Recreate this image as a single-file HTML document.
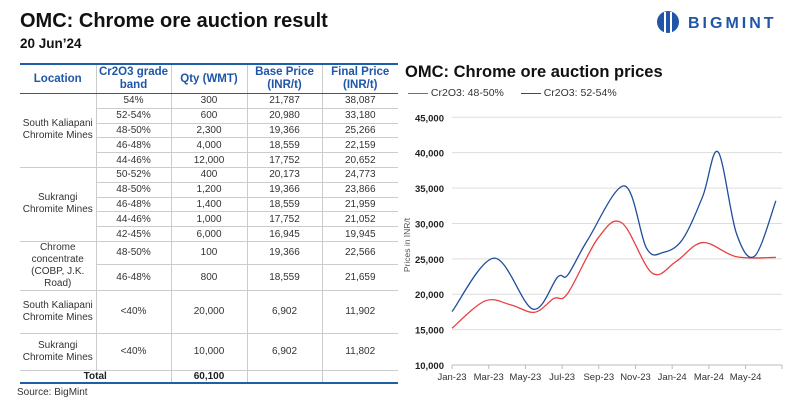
<!DOCTYPE html>
<html><head><meta charset="utf-8"><style>
body{margin:0;width:804px;height:401px;background:#fff;font-family:"Liberation Sans",sans-serif;position:relative;overflow:hidden}
.abs{position:absolute}
table{position:absolute;left:20px;top:63px;width:378px;border-collapse:collapse;table-layout:fixed;font-size:10px;color:#333}
td,th{border:1px solid #ccc;text-align:center;padding:0;line-height:11px}
th{color:#1f56a8;font-size:11.5px;font-weight:bold;border-top:2px solid #1f5fa8;border-bottom:1.5px solid #1f5fa8;height:28px;line-height:13px}
tr.r td{height:13.8px}
td:first-child,th:first-child{border-left:none}
td:last-child,th:last-child{border-right:none}
tr.tot td{border-bottom:2px solid #1f5fa8;font-weight:bold;height:11px;color:#222}
.loc{line-height:12px}
</style></head><body>
<div class="abs" style="left:20px;top:10px;font-size:20px;font-weight:bold;color:#111">OMC: Chrome ore auction result</div>
<div class="abs" style="left:20px;top:36px;font-size:13.5px;font-weight:bold;color:#111">20 Jun’24</div>
<div class="abs" style="left:655px;top:10px;width:140px;height:26px">
<svg width="28" height="26" style="position:absolute;left:0;top:0"><circle cx="13" cy="12" r="11" fill="#1f56a8"/><rect x="9" y="2" width="2" height="22" fill="#fff"/><rect x="15" y="2" width="2" height="22" fill="#fff"/></svg>
<span style="position:absolute;left:33px;top:5px;font-size:16px;font-weight:bold;color:#1f56a8;letter-spacing:3px">BIGMINT</span></div>

<table>
<colgroup><col style="width:76px"><col style="width:75px"><col style="width:76px"><col style="width:75px"><col style="width:76px"></colgroup>
<tr><th>Location</th><th>Cr2O3 grade band</th><th>Qty (WMT)</th><th>Base Price (INR/t)</th><th>Final Price (INR/t)</th></tr>
<tr class="r"><td rowspan="5" class="loc">South Kaliapani Chromite Mines</td><td>54%</td><td>300</td><td>21,787</td><td>38,087</td></tr>
<tr class="r"><td>52-54%</td><td>600</td><td>20,980</td><td>33,180</td></tr>
<tr class="r"><td>48-50%</td><td>2,300</td><td>19,366</td><td>25,266</td></tr>
<tr class="r"><td>46-48%</td><td>4,000</td><td>18,559</td><td>22,159</td></tr>
<tr class="r"><td>44-46%</td><td>12,000</td><td>17,752</td><td>20,652</td></tr>
<tr class="r"><td rowspan="5" class="loc">Sukrangi Chromite Mines</td><td>50-52%</td><td>400</td><td>20,173</td><td>24,773</td></tr>
<tr class="r"><td>48-50%</td><td>1,200</td><td>19,366</td><td>23,866</td></tr>
<tr class="r"><td>46-48%</td><td>1,400</td><td>18,559</td><td>21,959</td></tr>
<tr class="r"><td>44-46%</td><td>1,000</td><td>17,752</td><td>21,052</td></tr>
<tr class="r"><td>42-45%</td><td>6,000</td><td>16,945</td><td>19,945</td></tr>
<tr><td rowspan="2" class="loc">Chrome concentrate (COBP, J.K. Road)</td><td style="height:22px">48-50%</td><td>100</td><td>19,366</td><td>22,566</td></tr>
<tr><td style="height:25px">46-48%</td><td>800</td><td>18,559</td><td>21,659</td></tr>
<tr><td class="loc" style="height:42px">South Kaliapani Chromite Mines</td><td>&lt;40%</td><td>20,000</td><td>6,902</td><td>11,902</td></tr>
<tr><td class="loc" style="height:36px">Sukrangi Chromite Mines</td><td>&lt;40%</td><td>10,000</td><td>6,902</td><td>11,802</td></tr>
<tr class="tot"><td colspan="2">Total</td><td>60,100</td><td></td><td></td></tr>
</table>
<div class="abs" style="left:17px;top:387px;font-size:10px;color:#333">Source: BigMint</div>

<div class="abs" style="left:405px;top:63px;font-size:16.5px;font-weight:bold;color:#111">OMC: Chrome ore auction prices</div>
<div class="abs" style="left:408px;top:87px;font-size:10.5px;color:#333">
<span><span style="display:inline-block;width:20px;border-top:1.5px solid #e84040;vertical-align:middle"></span> Cr2O3: 48-50%</span>
<span style="margin-left:14px"><span style="display:inline-block;width:20px;border-top:1.5px solid #1f4e9c;vertical-align:middle"></span> Cr2O3: 52-54%</span></div>
<svg id="chart" class="abs" style="left:400px;top:100px" width="404" height="290"></svg>
<script>
const ticksY=[10000,15000,20000,25000,30000,35000,40000,45000];
const ticksX=["Jan-23","Mar-23","May-23","Jul-23","Sep-23","Nov-23","Jan-24","Mar-24","May-24"];
const blueMonths=[0,2.3,4.4,5.75,6.3,7.4,9.4,10.6,11.5,12.55,13.66,14.5,15.5,16.5,17.65];
const blueVals=[17540,25100,17900,22400,22700,27700,35300,26500,25900,27700,33800,40100,28600,25400,33200];
const redMonths=[0,1.8,3.2,4.5,5.55,6.3,7.95,9.25,10.9,12.2,13.66,15.5,17.65];
const redVals=[15200,19050,18500,17450,19400,20100,27900,30100,23000,24600,27300,25300,25200];
const svg=document.getElementById('chart'),NS='http://www.w3.org/2000/svg';
const X0=52,PM=18.35;
function xs(m){return X0+m*PM;}
function ys(v){return 265-(v-10000)*(247.7/35000);}
function mk(t,a){const e=document.createElementNS(NS,t);for(const k in a)e.setAttribute(k,a[k]);svg.appendChild(e);return e;}
ticksY.forEach(v=>{const g=mk('line',{x1:52,x2:382,y1:ys(v),y2:ys(v),stroke:v==10000?'#bbb':'#ddd','stroke-width':1});


const t=mk('text',{x:44,y:ys(v)+4,'text-anchor':'end','font-size':9.5,fill:'#222','font-weight':'bold'});t.textContent=v.toLocaleString('en-US');

});
ticksX.forEach((l,i)=>{const x=xs(i*2);mk('line',{x1:x,x2:x,y1:265,y2:269,stroke:'#bbb'});
const t=mk('text',{x:x,y:280,'text-anchor':'middle','font-size':9.5,fill:'#333'});t.textContent=l;

});
mk('line',{x1:382,x2:382,y1:265,y2:269,stroke:'#bbb'});
const yt=mk('text',{x:10,y:145,'text-anchor':'middle','font-size':8.5,fill:'#555',transform:'rotate(-90 10 145)'});yt.textContent='Prices in INR/t';


function path(ms,vs){const p=ms.map((m,i)=>[xs(m),ys(vs[i])]);let d='M'+p[0];
for(let i=0;i<p.length-1;i++){const a=p[i-1]||p[i],b=p[i],c=p[i+1],e=p[i+2]||c;
d+=' C'+(b[0]+(c[0]-a[0])/6)+','+(b[1]+(c[1]-a[1])/6)+' '+(c[0]-(e[0]-b[0])/6)+','+(c[1]-(e[1]-b[1])/6)+' '+c[0]+','+c[1];}return d;}
const r=mk('path',{d:path(redMonths,redVals),fill:'none',stroke:'#e84040','stroke-width':1.3});


const b=mk('path',{d:path(blueMonths,blueVals),fill:'none',stroke:'#1f4e9c','stroke-width':1.3});


</script>
</body></html>
